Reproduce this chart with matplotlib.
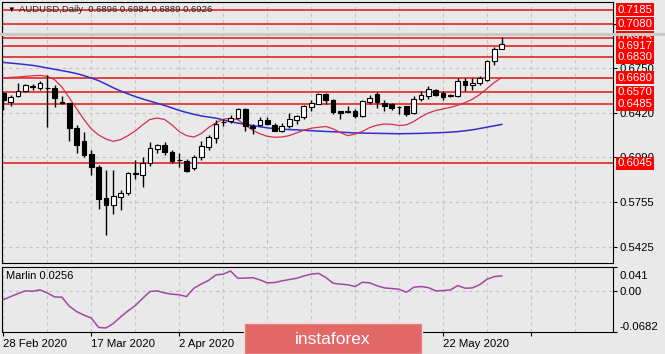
import matplotlib
matplotlib.use("Agg")
import matplotlib.pyplot as plt
import matplotlib.transforms as mtransforms
from matplotlib.lines import Line2D
from matplotlib.patches import Rectangle
import numpy as np
import pandas as pd

# daily bars, 28 Feb 2020 .. 3 Jun 2020
dates = pd.bdate_range("2020-02-28", "2020-06-03")

opens = [0.6565, 0.6497, 0.6541, 0.6583, 0.6612, 0.6603, 0.6600, 0.6603, 0.6498, 0.6492,
         0.6306, 0.6212, 0.6113, 0.6014, 0.5786, 0.5733, 0.5798, 0.5823, 0.5966, 0.5960,
         0.6046, 0.6153, 0.6177, 0.6128, 0.6066, 0.6063, 0.6009, 0.6088, 0.6165, 0.6232,
         0.6348, 0.6355, 0.6381, 0.6447, 0.6323, 0.6331, 0.6368, 0.6331, 0.6281, 0.6318,
         0.6368, 0.6388, 0.6462, 0.6487, 0.6561, 0.6511, 0.6430, 0.6428, 0.6430, 0.6393,
         0.6497, 0.6561, 0.6492, 0.6487, 0.6460, 0.6467, 0.6418, 0.6524, 0.6541, 0.6591,
         0.6566, 0.6544, 0.6541, 0.6653, 0.6623, 0.6641, 0.6665, 0.6806, 0.6896]
highs = [0.6575, 0.6554, 0.6641, 0.6635, 0.6633, 0.6653, 0.6697, 0.6623, 0.6541, 0.6495,
         0.6326, 0.6277, 0.6145, 0.6034, 0.5997, 0.5997, 0.5848, 0.5984, 0.6071, 0.6088,
         0.6202, 0.6187, 0.6202, 0.6145, 0.6121, 0.6078, 0.6108, 0.6212, 0.6257, 0.6368,
         0.6373, 0.6405, 0.6455, 0.6455, 0.6338, 0.6388, 0.6388, 0.6343, 0.6343, 0.6418,
         0.6405, 0.6479, 0.6517, 0.6566, 0.6566, 0.6522, 0.6433, 0.6472, 0.6444, 0.6517,
         0.6554, 0.6571, 0.6511, 0.6492, 0.6472, 0.6472, 0.6541, 0.6583, 0.6615, 0.6598,
         0.6578, 0.6558, 0.6678, 0.6678, 0.6678, 0.6690, 0.6814, 0.6905, 0.6984]
lows = [0.6440, 0.6467, 0.6534, 0.6575, 0.6591, 0.6591, 0.6311, 0.6459, 0.6487, 0.6212,
        0.6118, 0.6088, 0.5959, 0.5707, 0.5514, 0.5667, 0.5699, 0.5811, 0.5930, 0.5872,
        0.6028, 0.6121, 0.6108, 0.6046, 0.6014, 0.5979, 0.5997, 0.6071, 0.6140, 0.6195,
        0.6318, 0.6343, 0.6373, 0.6281, 0.6264, 0.6318, 0.6331, 0.6281, 0.6274, 0.6306,
        0.6338, 0.6373, 0.6430, 0.6484, 0.6487, 0.6413, 0.6373, 0.6418, 0.6381, 0.6388,
        0.6487, 0.6455, 0.6430, 0.6437, 0.6413, 0.6398, 0.6410, 0.6509, 0.6524, 0.6546,
        0.6517, 0.6534, 0.6534, 0.6578, 0.6591, 0.6628, 0.6658, 0.6771, 0.6889]
closes = [0.6515, 0.6537, 0.6583, 0.6628, 0.6618, 0.6641, 0.6606, 0.6529, 0.6492, 0.6306,
          0.6182, 0.6108, 0.6014, 0.5781, 0.5737, 0.5806, 0.5828, 0.5972, 0.5972, 0.6046,
          0.6162, 0.6177, 0.6128, 0.6063, 0.6069, 0.5989, 0.6088, 0.6170, 0.6239, 0.6338,
          0.6353, 0.6381, 0.6447, 0.6318, 0.6306, 0.6368, 0.6338, 0.6288, 0.6323, 0.6373,
          0.6393, 0.6467, 0.6492, 0.6561, 0.6511, 0.6422, 0.6418, 0.6432, 0.6398, 0.6504,
          0.6529, 0.6497, 0.6467, 0.6455, 0.6464, 0.6413, 0.6524, 0.6549, 0.6598, 0.6554,
          0.6534, 0.6548, 0.6653, 0.6623, 0.6641, 0.6678, 0.6806, 0.6895, 0.6926]

# moving averages (red = fast, blue = slow)
ma_fast = [0.6678, 0.6682, 0.6685, 0.6690, 0.6694, 0.6697, 0.6690, 0.6665, 0.6610, 0.6530,
           0.6450, 0.6370, 0.6300, 0.6255, 0.6225, 0.6208, 0.6220, 0.6250, 0.6285, 0.6330,
           0.6370, 0.6380, 0.6370, 0.6330, 0.6280, 0.6250, 0.6240, 0.6265, 0.6310, 0.6345,
           0.6372, 0.6378, 0.6368, 0.6330, 0.6290, 0.6264, 0.6245, 0.6238, 0.6240, 0.6250,
           0.6270, 0.6290, 0.6305, 0.6312, 0.6318, 0.6300, 0.6272, 0.6250, 0.6262, 0.6282,
           0.6310, 0.6328, 0.6336, 0.6334, 0.6325, 0.6330, 0.6355, 0.6390, 0.6418, 0.6437,
           0.6448, 0.6460, 0.6475, 0.6495, 0.6520, 0.6555, 0.6600, 0.6645, 0.6680]
ma_slow = [0.6793, 0.6788, 0.6783, 0.6777, 0.6771, 0.6762, 0.6752, 0.6742, 0.6732, 0.6722,
           0.6710, 0.6695, 0.6677, 0.6658, 0.6632, 0.6605, 0.6581, 0.6560, 0.6540, 0.6522,
           0.6506, 0.6490, 0.6474, 0.6456, 0.6437, 0.6422, 0.6408, 0.6396, 0.6388, 0.6380,
           0.6367, 0.6352, 0.6343, 0.6334, 0.6325, 0.6316, 0.6308, 0.6302, 0.6298, 0.6295,
           0.6293, 0.6290, 0.6287, 0.6284, 0.6281, 0.6279, 0.6276, 0.6273, 0.6270, 0.6269,
           0.6268, 0.6267, 0.6266, 0.6265, 0.6264, 0.6265, 0.6266, 0.6267, 0.6269, 0.6271,
           0.6273, 0.6276, 0.6280, 0.6286, 0.6293, 0.6303, 0.6313, 0.6323, 0.6333]

marlin = [-0.0140, -0.0090, -0.0040, 0.0006, 0.0000, 0.0022, -0.0030, -0.0095, -0.0100, -0.0250,
          -0.0340, -0.0400, -0.0449, -0.0605, -0.0615, -0.0540, -0.0430, -0.0330, -0.0240, -0.0120,
          -0.0005, 0.0006, -0.0030, -0.0050, -0.0060, -0.0089, 0.0050, 0.0120, 0.0180, 0.0272,
          0.0285, 0.0338, 0.0216, 0.0220, 0.0227, 0.0190, 0.0140, 0.0145, 0.0172, 0.0195,
          0.0216, 0.0255, 0.0285, 0.0299, 0.0230, 0.0133, 0.0118, 0.0108, 0.0078, 0.0150,
          0.0140, 0.0090, 0.0055, 0.0045, 0.0033, -0.0017, 0.0067, 0.0078, 0.0060, 0.0006,
          0.0010, 0.0022, 0.0094, 0.0050, 0.0055, 0.0110, 0.0200, 0.0245, 0.0256]

levels = [0.7185, 0.7080, 0.6975, 0.6917, 0.6830, 0.6680, 0.6570, 0.6485, 0.6045]
price_ticks = [0.5425, 0.5755, 0.6090, 0.6420, 0.6750, 0.7080]
marlin_ticks = [-0.0682, 0.0, 0.041]
marlin_labels = ["-0.0682", "0.00", "0.041"]

BG = "#e9e9e9"
GRID = "#c4c4c4"
plt.rcParams["font.family"] = ["Liberation Sans", "DejaVu Sans"]

W, H = 665, 354
fig = plt.figure(figsize=(W / 100, H / 100), dpi=100, facecolor=BG)


def px_axes(x0, y0, x1, y1):
    return fig.add_axes([x0 / W, 1 - y1 / H, (x1 - x0) / W, (y1 - y0) / H])


ax = px_axes(1.7, 1.5, 613, 263)
ax2 = px_axes(1.7, 266.7, 613, 332)

x = np.arange(len(dates))
o = np.array(opens)
c = np.array(closes)
up = c >= o
xlim = (-0.22, 83.18)

for a in (ax, ax2):
    a.set_facecolor(BG)
    a.set_xlim(*xlim)
    a.set_xticks(np.arange(0, 84, 12))
    a.set_xticks(np.arange(6, 84, 12), minor=True)
    a.grid(True, axis="x", which="both", color=GRID, ls=(0, (3, 3)), lw=0.8)
    for s in a.spines.values():
        s.set_color("black")
        s.set_linewidth(0.8)
    a.yaxis.tick_right()
    a.tick_params(axis="y", length=3, pad=2, labelsize=8.2, colors="black")
    a.tick_params(axis="x", which="minor", length=0)

# main price panel
ax.set_ylim(0.53056, 0.72447)
ax.set_yticks(price_ticks, [f"{t:.4f}" for t in price_ticks])
ax.grid(True, axis="y", color=GRID, ls=(0, (3, 3)), lw=0.8)
ax.tick_params(axis="x", which="both", bottom=False, labelbottom=False)

for lv in levels:
    ax.axhline(lv, color="#e32626", lw=1.2, zorder=2)

ax.plot(x, ma_slow, color="#2f2fd0", lw=1.1, zorder=3)
ax.plot(x, ma_fast, color="#d6304a", lw=0.9, zorder=3)

ax.vlines(x, lows, highs, color="black", lw=1, zorder=4)
ax.bar(x[up], c[up] - o[up], bottom=o[up], width=0.64, color="white",
       edgecolor="black", lw=0.8, zorder=5)
ax.bar(x[~up], o[~up] - c[~up], bottom=c[~up], width=0.64, color="black",
       edgecolor="black", lw=0.8, zorder=5)

for lv in levels:
    ax.annotate(f"{lv:.4f}", xy=(1, lv), xycoords=("axes fraction", "data"),
                xytext=(3.5, 0), textcoords="offset points", va="center", ha="left",
                color="white", fontsize=8.2, annotation_clip=False, zorder=6,
                bbox=dict(boxstyle="square,pad=0.14", fc="#ff0000", ec="none"))

fig.text(7 / W, 1 - 10 / H, "\u25bc", fontsize=5.5, va="center", ha="left")
fig.text(19 / W, 1 - 10 / H,
         "AUDUSD,Daily  " + " ".join(f"{v:.4f}" for v in
                                      (opens[-1], highs[-1], lows[-1], closes[-1])),
         fontsize=6.8, va="center", ha="left", color="#222222")

# grey stripe across the screenshot
fig.add_artist(Line2D([0, 1], [1 - 33.5 / H] * 2, transform=fig.transFigure,
                      color="#c9c9c9", lw=2.2, zorder=8))

# Marlin panel
ax2.plot(x, marlin, color="#a347a3", lw=1.1, zorder=3)
ax2.set_ylim(-0.0682, 0.041)
ax2.axhline(0, color=GRID, ls=(0, (3, 3)), lw=0.8)
ax2.set_yticks(marlin_ticks, marlin_labels)
ax2.text(0.007, 0.85, f"Marlin {marlin[-1]:.4f}", transform=ax2.transAxes,
         fontsize=8, va="center", ha="left")

shift = {"0.041": -8, "-0.0682": 6}
for lbl in ax2.get_yticklabels():
    dy = shift.get(lbl.get_text(), 0)
    lbl.set_transform(lbl.get_transform() +
                      mtransforms.ScaledTranslation(0, dy / 100, fig.dpi_scale_trans))

tick_idx = np.arange(0, 84, 12)
ax2.set_xticklabels([dates[i].strftime("%-d %b %Y") if i < len(dates) else ""
                     for i in tick_idx])
ax2.tick_params(axis="x", which="major", length=3, pad=2, labelsize=8.2)
for lbl in ax2.get_xticklabels():
    lbl.set_ha("left")

# watermark logo
fig.patches.append(Rectangle((244 / W, 0), 178 / W, 31 / H, transform=fig.transFigure,
                             fc="#e36868", ec="#f3dada", lw=1, zorder=10))
fig.text(333 / W, 1 - 339 / H, "instaforex", color="white", fontsize=12.5,
         ha="center", va="center", zorder=11)

fig.savefig("out.png", dpi=100, facecolor=BG)
